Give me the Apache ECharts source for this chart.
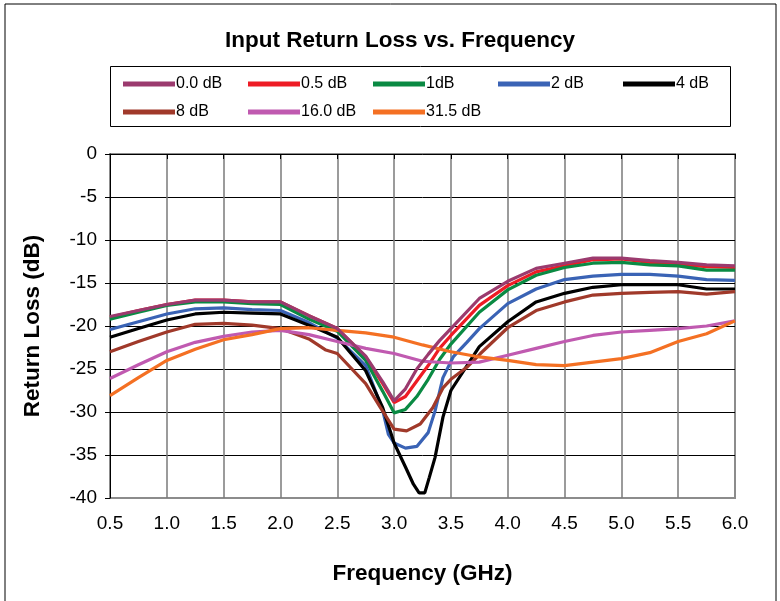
<!DOCTYPE html>
<html>
<head>
<meta charset="utf-8">
<script src="https://cdn.jsdelivr.net/npm/echarts@6/dist/echarts.min.js"></script>
<style>html,body{margin:0;padding:0;background:#fff}#c{width:780px;height:601px}</style>
</head>
<body>
<div id="c"></div>
<script>
// Frequencies (GHz) for each series
const freqMain = [0.5,0.75,1.0,1.25,1.5,1.75,2.0,2.25,2.5,2.75,2.9,3.0,3.1,3.2,3.3,3.4,3.5,3.75,4.0,4.25,4.5,4.75,5.0,5.25,5.5,5.75,6.0];
const s00  = [-18.9,-18.2,-17.5,-17.0,-17.0,-17.2,-17.2,-18.8,-20.3,-23.5,-26.5,-28.7,-27.3,-25.0,-23.3,-21.7,-20.3,-16.8,-14.8,-13.3,-12.7,-12.1,-12.1,-12.4,-12.6,-12.9,-13.0];
const s05  = [-19.0,-18.2,-17.5,-17.0,-17.0,-17.2,-17.2,-18.8,-20.3,-23.6,-26.7,-28.9,-28.2,-26.4,-24.6,-22.6,-21.1,-17.6,-15.3,-13.7,-13.0,-12.3,-12.2,-12.6,-12.8,-13.1,-13.2];
const s1   = [-19.2,-18.4,-17.6,-17.2,-17.2,-17.4,-17.5,-19.2,-20.6,-24.0,-27.6,-30.1,-29.7,-28.2,-26.2,-23.9,-22.1,-18.4,-15.8,-14.1,-13.2,-12.7,-12.6,-12.9,-13.0,-13.5,-13.5];
const freqB = [0.5,0.75,1.0,1.25,1.5,1.75,2.0,2.25,2.5,2.75,2.9,2.95,3.0,3.1,3.2,3.3,3.36,3.43,3.52,3.64,3.75,4.0,4.25,4.5,4.75,5.0,5.25,5.5,5.75,6.0];
const s2   = [-20.4,-19.5,-18.6,-18.0,-17.9,-18.1,-18.2,-19.6,-21.4,-24.6,-29.8,-32.6,-33.6,-34.2,-34.0,-32.4,-29.9,-26.0,-23.6,-21.9,-20.3,-17.4,-15.7,-14.6,-14.2,-14.0,-14.0,-14.2,-14.6,-14.7];
const freqK = [0.5,0.75,1.0,1.25,1.5,1.75,2.0,2.25,2.5,2.75,2.9,3.0,3.1,3.17,3.22,3.27,3.31,3.36,3.43,3.5,3.75,4.0,4.25,4.5,4.75,5.0,5.25,5.5,5.75,6.0];
const s4   = [-21.3,-20.3,-19.3,-18.6,-18.4,-18.5,-18.6,-19.9,-21.3,-25.2,-29.5,-33.6,-36.4,-38.4,-39.4,-39.4,-37.6,-35.3,-30.6,-27.5,-22.4,-19.5,-17.2,-16.2,-15.5,-15.2,-15.2,-15.2,-15.7,-15.7];
const freqR = [0.5,0.75,1.0,1.25,1.5,1.75,2.0,2.25,2.4,2.5,2.75,2.88,3.0,3.11,3.23,3.34,3.43,3.5,3.64,3.76,4.0,4.25,4.5,4.75,5.0,5.25,5.5,5.75,6.0];
const s8   = [-23.0,-21.8,-20.7,-19.8,-19.7,-19.9,-20.3,-21.5,-22.8,-23.2,-26.7,-29.5,-32.0,-32.2,-31.4,-29.5,-27.2,-26.2,-24.8,-23.2,-20.2,-18.2,-17.2,-16.4,-16.2,-16.1,-16.0,-16.3,-16.0];
const freqQ = [0.5,0.75,1.0,1.25,1.5,1.75,2.0,2.25,2.5,2.75,3.0,3.25,3.5,3.75,4.0,4.25,4.5,4.75,5.0,5.25,5.5,5.75,6.0];
const s16  = [-26.1,-24.5,-23.0,-21.9,-21.2,-20.7,-20.5,-21.0,-21.8,-22.6,-23.2,-24.1,-24.3,-24.2,-23.4,-22.6,-21.8,-21.1,-20.7,-20.5,-20.3,-20.0,-19.4];
const s315 = [-28.1,-26.0,-24.0,-22.7,-21.6,-21.0,-20.3,-20.2,-20.5,-20.8,-21.3,-22.2,-23.0,-23.6,-24.0,-24.5,-24.6,-24.2,-23.8,-23.1,-21.8,-20.9,-19.4];

const names = ['0.0 dB','0.5 dB','1dB','2 dB','4 dB','8 dB','16.0 dB','31.5 dB'];
const colors = ['#9B3A6E','#EE1C25','#0A8A43','#3A63B5','#000000','#A0392A','#C05AB0','#F47023'];
const xsets = [freqMain,freqMain,freqMain,freqB,freqK,freqR,freqQ,freqQ];
const ysets = [s00,s05,s1,s2,s4,s8,s16,s315];
const xTicks = ['0.5','1.0','1.5','2.0','2.5','3.0','3.5','4.0','4.5','5.0','5.5','6.0'];

const font = 'Liberation Sans, Arial, sans-serif';
const chart = echarts.init(document.getElementById('c'));

const series = names.map((n,i)=>({
  name:n, type:'line', showSymbol:false, symbol:'none',
  data: xsets[i].map((x,j)=>[x, ysets[i][j]]),
  lineStyle:{width:3.2,color:colors[i]}, itemStyle:{color:colors[i]},
  z: 2 + i, animation:false
}));
series[0].z = 20;

const legends = names.map((n,i)=>({
  data:[n], left: 118 + (i%5)*125, top: 71 + Math.floor(i/5)*28,
  itemWidth:52, itemHeight:18, itemGap:0, icon:'path://M0,0 L52,0 L52,5 L0,5 Z',
  textStyle:{fontFamily:font,fontSize:16,color:'#000',padding:[0,0,0,-4]},
  selectedMode:false
}));

chart.setOption({
  animation:false,
  backgroundColor:'#fff',
  title:{text:'Input Return Loss vs. Frequency', left:220, top:24,
    textStyle:{fontFamily:font,fontSize:22.5,fontWeight:'bold',color:'#000'}},
  legend: legends,
  grid:{left:110,right:45,top:154,bottom:103,show:true,borderColor:'#8c8c8c',borderWidth:2,containLabel:false},
  xAxis:{type:'value',min:0.5,max:6,interval:0.5,
    name:'Frequency (GHz)',nameLocation:'middle',nameGap:64,
    nameTextStyle:{fontFamily:font,fontSize:22.5,fontWeight:'bold',color:'#000'},
    axisLine:{show:true,lineStyle:{color:'#000',width:1}},
    axisTick:{show:true,length:5,inside:false,lineStyle:{color:'#000'}},
    axisLabel:{fontFamily:font,fontSize:19,color:'#000',margin:16,formatter:(v)=>xTicks[Math.round((v-0.5)/0.5)]||''},
    splitLine:{show:true,showMinLine:false,showMaxLine:false,lineStyle:{color:'#7a7a7a',width:1.5}}
  },
  yAxis:{type:'value',min:-40,max:0,interval:5,
    name:'Return Loss (dB)',nameLocation:'middle',nameGap:66,
    nameTextStyle:{fontFamily:font,fontSize:22.5,fontWeight:'bold',color:'#000'},
    axisLine:{show:true,lineStyle:{color:'#000',width:1}},
    axisTick:{show:true,length:5,lineStyle:{color:'#000'}},
    axisLabel:{fontFamily:font,fontSize:19,color:'#000',margin:13},
    splitLine:{show:true,showMinLine:false,showMaxLine:false,lineStyle:{color:'#000',width:1}}
  },
  graphic:[
    {type:'rect',shape:{x:5,y:4,width:771,height:640},style:{fill:'none',stroke:'#000',lineWidth:1},z:-1},
    {type:'rect',shape:{x:110.5,y:66.5,width:620,height:60},style:{fill:'none',stroke:'#000',lineWidth:1},z:-1}
  ],
  series: series
});
</script>
</body>
</html>
